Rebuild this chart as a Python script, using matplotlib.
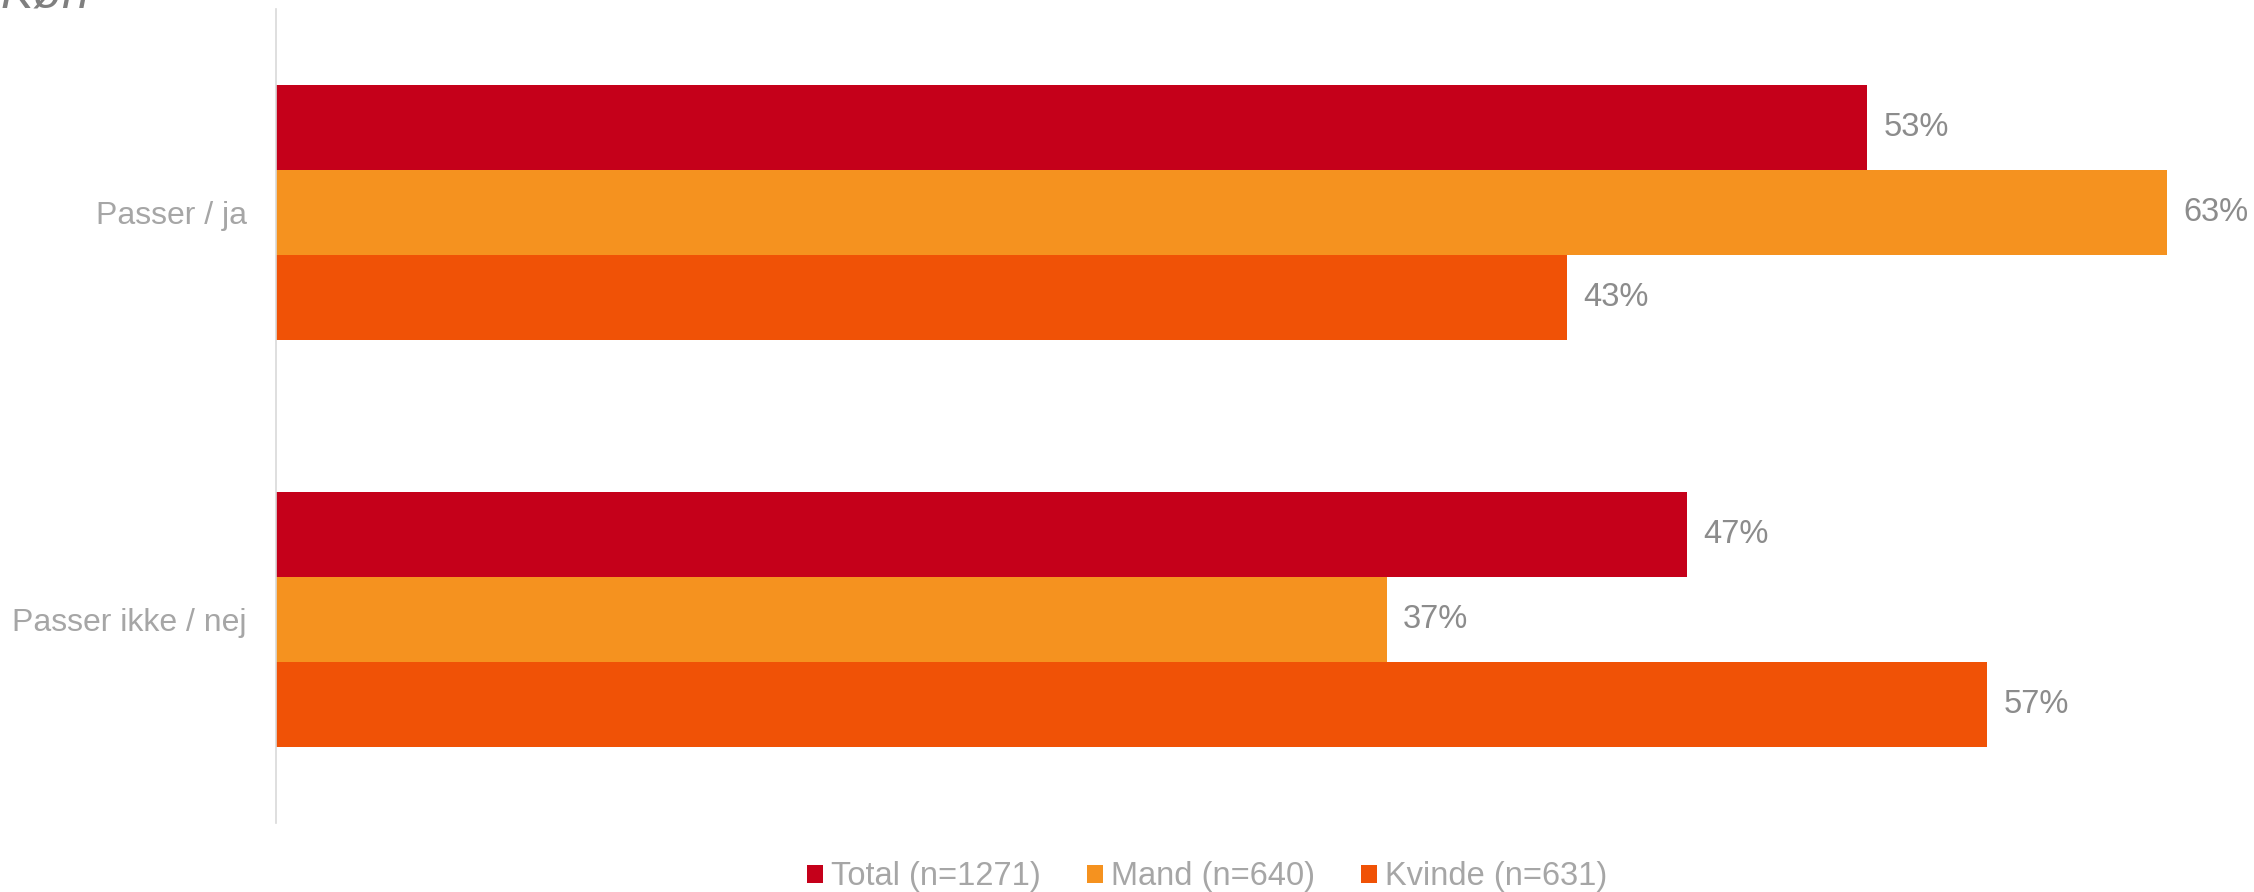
import matplotlib.pyplot as plt
import numpy as np

plt.rcParams['font.family'] = ['Liberation Sans', 'DejaVu Sans']

categories = ['Passer / ja', 'Passer ikke / nej']
series = ['Total (n=1271)', 'Mand (n=640)', 'Kvinde (n=631)']
total = [53, 47]
mand = [63, 37]
kvinde = [43, 57]
colors = ['#C5001A', '#F5921F', '#F05206']

fig = plt.figure(figsize=(22.54, 8.92), dpi=100)
ax = fig.add_axes([276 / 2254, 1 - 823 / 892, 1 - 276 / 2254, 814 / 892])

y = np.arange(len(categories))
h = 85 / 407
for i, (vals, name, c) in enumerate(zip([total, mand, kvinde], series, colors)):
    pos = y + (i - 1) * h
    ax.barh(pos, vals, height=h, color=c, label=name)
    for p, v in zip(pos, vals):
        ax.text(v + 0.55, p, f'{v}%', va='center', ha='left', fontsize=23.5, color='#8C8C8C')

ax.set_ylim(1.5, -0.5)
ax.set_xlim(0, 65.9)
ax.set_yticks(y)
ax.set_yticklabels(categories, fontsize=23, color='#A6A6A6')
ax.tick_params(axis='y', length=0, pad=21)
ax.set_xticks([])
for s in ['top', 'right', 'bottom']:
    ax.spines[s].set_visible(False)
ax.spines['left'].set_color('#D9D9D9')
ax.spines['left'].set_linewidth(1.2)

fig.text(0.0, 1 - 7 / 892, 'Køn', fontsize=35, style='italic', color='#7F7F7F',
         ha='left', va='baseline')

leg = fig.legend(loc='center', bbox_to_anchor=(1207 / 2254, 1 - 877 / 892), ncol=3,
                 frameon=False, fontsize=23.5, handlelength=0.5, handleheight=0.5,
                 handletextpad=0.25, columnspacing=1.4)
for t in leg.get_texts():
    t.set_color('#A6A6A6')

fig.savefig('out.png', dpi=100)
